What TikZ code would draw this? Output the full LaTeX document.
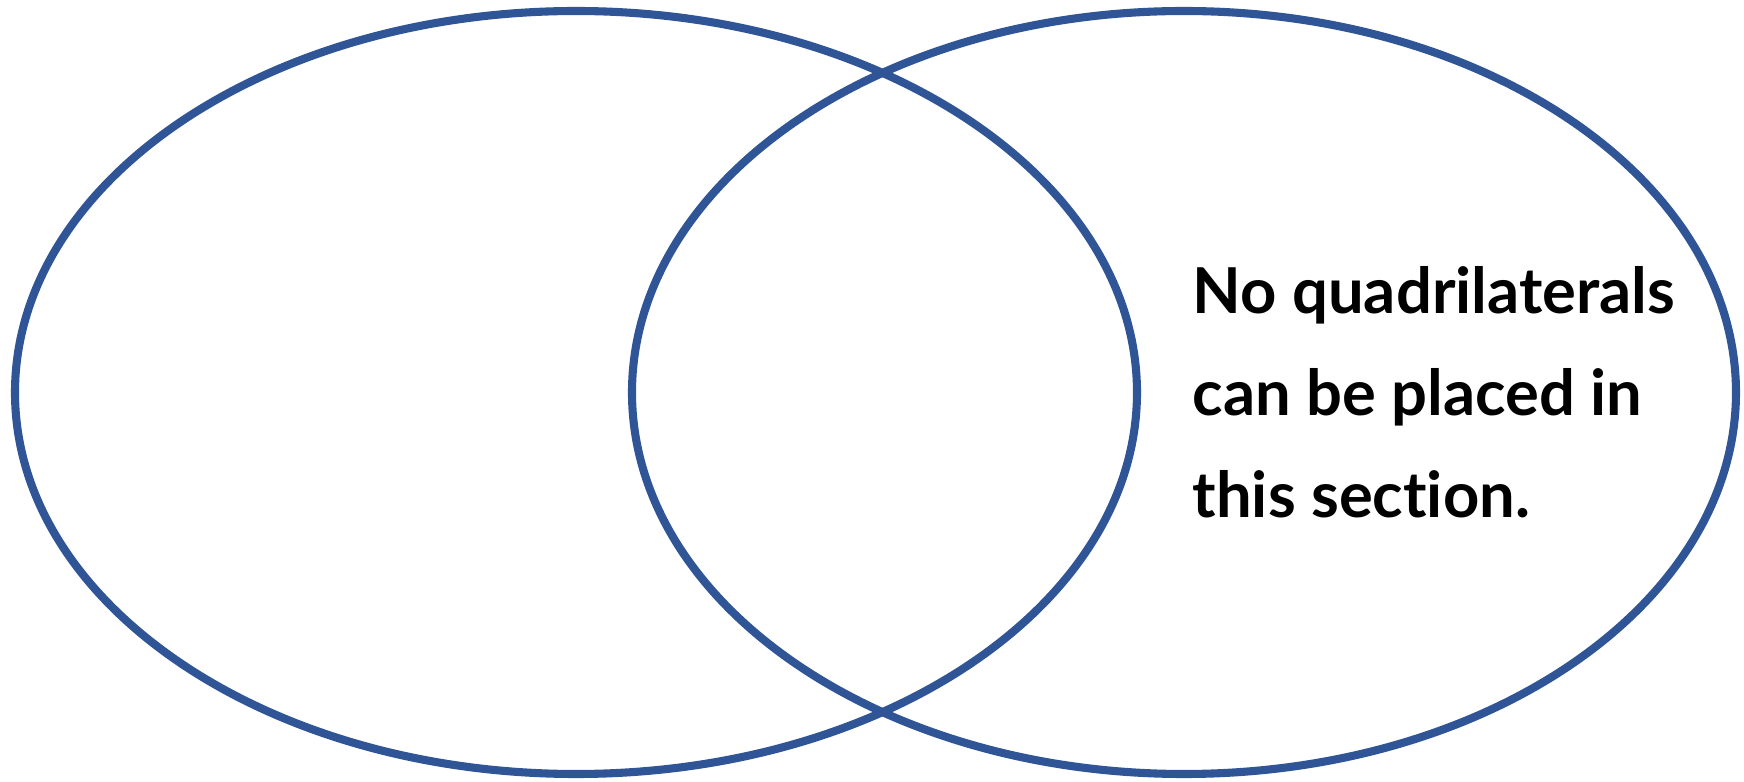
\documentclass[tikz,border=0pt]{standalone}
\usepackage{fontspec}
\setmainfont{Lato}[Ligatures=NoCommon]
\definecolor{vennblue}{HTML}{2F5597}
\begin{document}
\begin{tikzpicture}[x=0.01cm,y=-0.01cm,
  vennset/.style={draw=vennblue,line width=2.3pt},
  label/.style={font=\fontsize{18}{29}\selectfont\bfseries,align=left,inner sep=0pt,text=black}]
\useasboundingbox (0,0) rectangle (1744,782);
\draw[vennset] (576,392.5) ellipse [x radius=561, y radius=381.5];
\draw[vennset] (1184,392.5) ellipse [x radius=552, y radius=381.5];
\node[label,anchor=west] (txt) at (1192,392) {No quadrilaterals\\can be placed in\\this section.};
\end{tikzpicture}
\end{document}
